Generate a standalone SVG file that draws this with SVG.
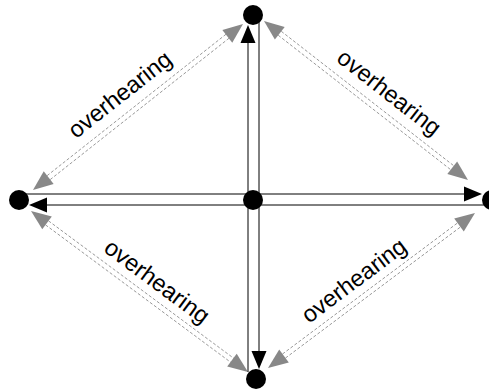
<svg xmlns="http://www.w3.org/2000/svg" xmlns:xlink="http://www.w3.org/1999/xlink" width="489" height="389" viewBox="0 0 489 389">
<style>
.dash{stroke:#999;stroke-width:1;stroke-dasharray:3,2;fill:none}
.solid{stroke:#000;stroke-width:1;fill:none}
.node{fill:#000}
.lbl{font-family:"Liberation Sans",Arial,sans-serif;font-size:23.5px;fill:#000;text-anchor:middle}
</style>
<defs>
<path id="ga" d="M0,0 L-20,-8 L-20,8 Z" fill="#888"/>
<path id="ba" d="M0,0 L-18,-7.5 L-18,7.5 Z" fill="#000"/>
</defs>
<rect width="489" height="389" fill="#fff"/>
<g id="connectors">
<line class="dash" x1="42.40" y1="185.76" x2="236.71" y2="32.16"/>
<line class="dash" x1="39.30" y1="181.84" x2="233.61" y2="28.24"/>
<use xlink:href="#ga" transform="translate(243,24) rotate(-38.3)"/>
<use xlink:href="#ga" transform="translate(33,190) rotate(141.7)"/>
<line class="dash" x1="270.35" y1="29.12" x2="458.57" y2="175.82"/>
<line class="dash" x1="273.43" y1="25.18" x2="461.65" y2="171.88"/>
<use xlink:href="#ga" transform="translate(264,21) rotate(217.9)"/>
<use xlink:href="#ga" transform="translate(468,180) rotate(37.9)"/>
<line class="dash" x1="37.54" y1="218.97" x2="238.48" y2="368.05"/>
<line class="dash" x1="40.52" y1="214.95" x2="241.46" y2="364.03"/>
<use xlink:href="#ga" transform="translate(31,211) rotate(216.6)"/>
<use xlink:href="#ga" transform="translate(248,372) rotate(36.6)"/>
<line class="dash" x1="277.51" y1="364.01" x2="468.49" y2="220.99"/>
<line class="dash" x1="274.51" y1="360.01" x2="465.49" y2="216.99"/>
<use xlink:href="#ga" transform="translate(268,368) rotate(143.2)"/>
<use xlink:href="#ga" transform="translate(475,213) rotate(-36.8)"/>
<line class="solid" x1="248" y1="372" x2="248" y2="30"/>
<use xlink:href="#ba" transform="translate(248,25) rotate(-90)"/>
<line class="solid" x1="259" y1="20" x2="259" y2="364"/>
<use xlink:href="#ba" transform="translate(259,369) rotate(90)"/>
<line class="solid" x1="488" y1="205" x2="34" y2="205"/>
<use xlink:href="#ba" transform="translate(29,205) rotate(180)"/>
<line class="solid" x1="22" y1="194" x2="477" y2="194"/>
<use xlink:href="#ba" transform="translate(482,194)"/>
</g>
<g id="labels">
<text class="lbl" transform="translate(121,96) rotate(-38.3)" y="6">overhearing</text>
<text class="lbl" transform="translate(388,94) rotate(37.9)" y="6">overhearing</text>
<text class="lbl" transform="translate(156,283) rotate(36.6)" y="6">overhearing</text>
<text class="lbl" transform="translate(355,282) rotate(-36.8)" y="6">overhearing</text>
</g>
<g id="node-center"><circle class="node" cx="253" cy="200" r="10"/></g>
<g id="node-top"><circle class="node" cx="253" cy="15" r="10"/></g>
<g id="node-left"><circle class="node" cx="19" cy="200" r="10"/></g>
<g id="node-right"><circle class="node" cx="492" cy="200" r="10"/></g>
<g id="node-bottom"><circle class="node" cx="256" cy="379" r="10"/></g>
</svg>
